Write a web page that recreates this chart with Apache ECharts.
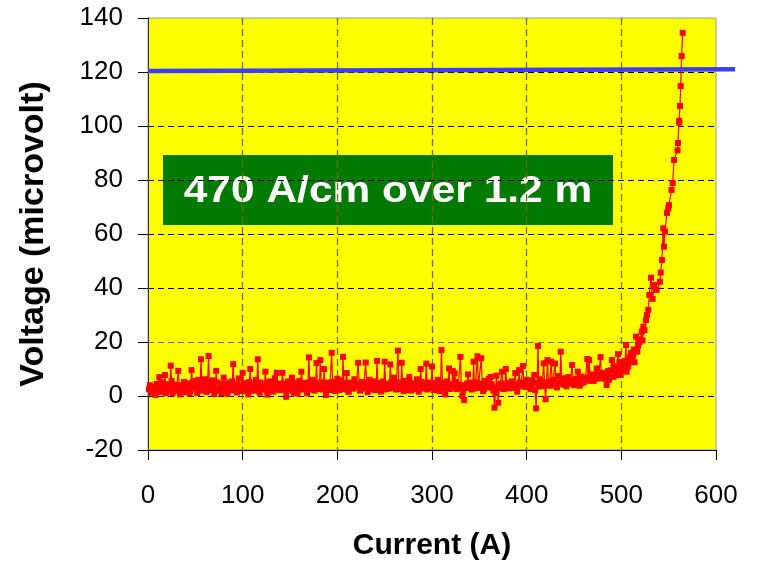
<!DOCTYPE html>
<html>
<head>
<meta charset="utf-8">
<script src="https://cdn.jsdelivr.net/npm/echarts@6/dist/echarts.min.js"></script>
<style>html,body{margin:0;padding:0;background:#fff}#c{width:761px;height:563px}</style>
</head>
<body>
<div id="c"></div>
<script>
// Baseline part of the measurement: current (A)
const baseCurrentA = [
  1,2,3,4,5,6,7,8,9,10,11,12,13,14,15,16,17,18,19,20,
  21,22,23,24,25,26,27,28,29,30,31,32,33,34,35,36,37,38,39,40,
  41,42,43,44,45,46,47,48,49,50,51,52,53,54,55,56,57,58,59,60,
  61,62,63,64,65,66,67,68,69,70,71,72,73,74,75,76,77,78,79,80,
  81,82,83,84,85,86,87,88,89,90,91,92,93,94,95,96,97,98,99,100,
  101,102,103,104,105,106,107,108,109,110,111,112,113,114,115,116,117,118,119,120,
  121,122,123,124,125,126,127,128,129,130,131,132,133,134,135,136,137,138,139,140,
  141,142,143,144,145,146,147,148,149,150,151,152,153,154,155,156,157,158,159,160,
  161,162,163,164,165,166,167,168,169,170,171,172,173,174,175,176,177,178,179,180,
  181,182,183,184,185,186,187,188,189,190,191,192,193,194,195,196,197,198,199,200,
  201,202,203,204,205,206,207,208,209,210,211,212,213,214,215,216,217,218,219,220,
  221,222,223,224,225,226,227,228,229,230,231,232,233,234,235,236,237,238,239,240,
  241,242,243,244,245,246,247,248,249,250,251,252,253,254,255,256,257,258,259,260,
  261,262,263,264,265,266,267,268,269,270,271,272,273,274,275,276,277,278,279,280,
  281,282,283,284,285,286,287,288,289,290,291,292,293,294,295,296,297,298,299,300,
  301,302,303,304,305,306,307,308,309,310,311,312,313,314,315,316,317,318,319,320,
  321,322,323,324,325,326,327,328,329,330,331,332,333,334,335,336,337,338,339,340,
  341,342,343,344,345,346,347,348,349,350,351,352,353,354,355,356,357,358,359,360,
  361,362,363,364,365,366,367,368,369,370,371,372,373,374,375,376,377,378,379,380,
  381,382,383,384,385,386,387,388,389,390,391,392,393,394,395,396,397,398,399,400,
  401,402,403,404,405,406,407,408,409,410,411,412,413,414,415,416,417,418,419,420,
  421,422,423,424,425,426,427,428,429,430,431,432,433,434,435,436,437,438,439,440,
  441,442,443,444,445,446,447,448,449,450,451,452,453,454,455,456,457,458,459,460,
  461,462,463,464,465,466,467,468,469,470,471,472,473,474,475,476,477,478,479,480
];
// Baseline part: voltage (microvolt)
const baseVoltageUV = [
  2.5,4.0,3.0,1.2,1.8,3.5,2.2,0.4,4.5,2.6,3.1,7.0,2.0,1.5,5.0,3.8,3.3,7.8,1.0,2.2,
  4.4,3.0,2.0,11.2,5.6,1.0,2.4,4.2,3.6,2.5,1.9,9.3,4.0,0.6,2.6,3.6,3.0,5.2,4.8,1.4,
  3.2,2.8,4.6,0.9,2.0,9.6,5.0,3.2,2.8,5.5,3.6,1.1,6.0,4.0,3.0,13.6,4.2,2.0,2.4,6.2,
  3.8,1.5,5.2,14.8,2.2,3.0,3.4,5.8,4.0,0.7,2.6,9.3,5.0,2.4,1.8,4.6,3.6,1.0,2.9,6.8,
  2.0,3.2,4.4,0.8,2.8,5.0,3.8,2.1,5.4,11.8,2.2,4.4,3.6,1.3,4.0,6.5,1.8,2.6,3.4,8.6,
  4.2,1.8,2.6,4.8,3.4,0.6,5.2,10.0,2.0,3.5,4.6,2.0,3.0,6.0,4.4,13.6,2.8,1.2,5.0,4.0,
  3.6,2.5,4.0,9.0,2.2,0.5,3.0,5.2,5.4,3.0,2.8,1.6,3.6,6.6,4.8,8.6,3.2,2.2,2.4,4.5,
  3.0,8.6,4.6,3.0,2.0,-0.3,2.6,5.4,4.2,2.0,3.4,6.8,2.2,1.2,5.0,3.8,3.6,0.9,2.8,5.6,
  3.4,9.0,4.6,2.4,2.6,4.8,3.8,1.0,5.0,14.3,2.4,3.2,4.2,6.0,3.0,2.0,4.8,12.2,2.6,4.2,
  3.2,13.3,5.0,3.6,2.4,10.0,3.0,0.4,4.4,5.0,3.8,2.6,2.2,16.0,5.2,4.0,3.4,1.8,4.0,6.4,
  4.2,2.2,3.0,5.8,2.6,14.5,4.8,3.0,3.6,8.5,2.2,1.5,5.0,4.6,3.4,2.8,2.8,6.2,4.6,3.4,
  3.6,12.3,4.4,2.0,2.6,5.2,5.0,3.6,3.0,12.4,3.8,1.4,4.6,6.0,2.4,3.0,3.2,4.8,5.4,2.2,
  4.0,13.0,2.8,3.8,4.8,1.6,3.2,5.4,2.4,12.7,4.6,2.6,3.6,4.2,2.8,11.7,5.2,3.0,3.4,6.8,
  4.6,2.4,3.0,16.8,5.0,4.0,2.6,12.3,3.8,1.8,4.2,5.6,2.2,3.2,3.6,7.0,4.8,2.0,3.0,4.6,
  2.6,3.4,4.0,6.2,3.6,1.6,2.8,10.0,5.2,4.4,3.4,2.8,4.6,12.0,2.4,5.0,3.8,3.0,4.4,10.9,
  4.0,2.2,3.0,4.8,2.6,6.0,4.4,1.8,3.2,17.0,5.0,3.2,2.8,0.6,3.6,5.4,4.2,10.2,2.6,3.6,
  4.4,9.3,3.0,8.4,5.2,2.6,2.8,4.2,3.6,14.5,4.0,0.1,2.2,-1.5,3.2,3.8,4.6,8.0,3.0,5.0,
  4.2,2.4,3.6,12.7,2.8,4.6,5.0,14.7,3.4,3.0,4.0,14.0,4.6,1.8,2.6,5.6,3.8,3.2,4.4,6.4,
  3.6,7.1,4.4,3.0,2.0,-4.3,1.0,7.5,3.2,-2.5,2.8,4.2,4.6,9.0,3.6,2.6,4.0,10.0,3.2,4.8,
  4.4,2.8,3.2,5.4,4.8,3.6,3.0,8.5,4.2,1.6,3.6,9.6,5.0,4.0,3.8,11.1,4.6,3.4,3.4,6.0,
  3.8,4.4,4.6,2.6,3.4,5.8,5.0,7.8,2.2,-4.6,4.8,18.5,3.6,6.2,5.4,3.6,4.2,12.1,4.0,-1.2,
  4.6,13.3,5.2,4.0,3.8,12.7,4.4,6.0,5.6,12.0,4.0,3.2,5.0,7.4,4.6,16.4,5.8,4.8,4.2,6.6,
  5.0,3.6,4.4,7.0,6.0,5.2,4.8,11.5,5.6,4.0,4.2,6.4,5.2,9.0,6.2,3.8,4.6,7.2,5.8,5.0,
  5.4,6.0,6.6,13.7,5.8,13.3,7.0,5.6,6.2,8.0,5.6,6.8,7.4,10.2,6.4,7.4,7.8,14.4,6.8,8.6
];
// Transition / quench part: current (A)
const riseCurrentA = [
  482,483,484.5,486,487,488,489,490,491.5,492,
  493,494,495,496.5,497.5,498,499.3,500,501,502,
  503,504,504.9,505.6,506,507.3,508,509,510,510.9,
  511.8,512.6,513.3,514,515.5,516.9,517.8,519,520,521.5,
  522.4,523.2,524.5,526,527,528.5,529.5,531.3,533,534.5,
  537.3,540.8,541.6,542.9,544.3,545,546.1,548.2,549.6,550.3,
  553,554.2,555.7,559.3,559.8,561,561.3,562,562.7,563.7,
  564.8
];
// Transition / quench part: voltage (microvolt)
const riseVoltageUV = [
  6.4,8.0,4.1,9.2,6.0,7.0,9.5,13.3,7.1,11.0,
  10.4,7.6,8.6,15.5,9.8,12.6,7.8,9.4,12.0,11.2,
  10.6,13.0,18.9,9.0,11.8,10.9,12.4,14.2,16.0,13.3,
  14.0,15.8,17.2,12.5,22.0,16.4,18.6,19.9,21.0,23.8,
  20.6,25.7,24.4,28.1,30.0,31.9,37.4,43.8,36.0,41.1,
  39.3,42.3,45.7,50.4,62.1,55.3,60.9,67.8,69.5,70.7,
  76.3,78.9,87.4,91.0,93.7,101.9,101.2,107.4,114.8,125.9,
  134.5
];
// Criterion line (extends past the plot edge)
const thresholdCurrent = [0, 620];
const thresholdVoltage = [120.4, 121.0];
// Axis ticks
const xTicks = {min: 0, max: 600, step: 100};
const yTicks = {min: -20, max: 140, step: 20};
const labelText = '470 A/cm over 1.2 m';

const FONT = '"Liberation Sans", Arial, sans-serif';
const chart = echarts.init(document.getElementById('c'), null, {renderer: 'canvas'});
const allCurrent = baseCurrentA.concat(riseCurrentA);
const allVoltage = baseVoltageUV.concat(riseVoltageUV);
const pts = allCurrent.map((x, i) => [x, allVoltage[i]]);
const thr = thresholdCurrent.map((x, i) => [x, thresholdVoltage[i]]);

chart.setOption({
  animation: false,
  backgroundColor: '#ffffff',
  grid: [
    {left: 148, right: 45, top: 18, bottom: 113, outerBoundsMode: 'none', containLabel: false,
     show: true, backgroundColor: '#ffff00', borderColor: '#9a9a9a', borderWidth: 1},
    {left: 148, right: 26, top: 18, bottom: 113, outerBoundsMode: 'none', containLabel: false, show: false}
  ],
  xAxis: [{
    type: 'value', gridIndex: 0, min: xTicks.min, max: xTicks.max, interval: xTicks.step,
    name: 'Current (A)', nameLocation: 'middle', nameGap: 81,
    nameTextStyle: {fontFamily: FONT, fontSize: 30, fontWeight: 'bold', color: '#000'},
    axisLine: {onZero: false, lineStyle: {color: '#000', width: 1}},
    axisTick: {show: true, inside: false, length: 10, lineStyle: {color: '#000'}},
    axisLabel: {fontFamily: FONT, fontSize: 26, color: '#000', margin: 33},
    splitLine: {show: true, showMinLine: false, showMaxLine: false,
      lineStyle: {color: '#6e6e00', type: [7, 4], width: 1.3}}
  }, {
    type: 'value', gridIndex: 1, min: 0, max: 620, show: false
  }],
  yAxis: [{
    type: 'value', gridIndex: 0, min: yTicks.min, max: yTicks.max, interval: yTicks.step,
    name: 'Voltage (microvolt)', nameLocation: 'middle', nameGap: 97,
    nameTextStyle: {fontFamily: FONT, fontSize: 34, fontWeight: 'bold', color: '#000'},
    axisLine: {show: true, onZero: false, lineStyle: {color: '#333', width: 1}},
    axisTick: {show: true, inside: false, length: 10, lineStyle: {color: '#000'}},
    axisLabel: {fontFamily: FONT, fontSize: 26, color: '#000', margin: 25},
    splitLine: {show: true, showMinLine: false, showMaxLine: false,
      lineStyle: {color: ['#000', '#6e6e00', '#000', '#000', '#000', '#000', '#000', '#000', '#000'],
        type: [6, 4], width: 1}}
  }, {
    type: 'value', gridIndex: 1, min: yTicks.min, max: yTicks.max, show: false
  }],
  graphic: [{
    type: 'group', left: 163, top: 155, z: 10,
    children: [
      {type: 'rect', shape: {x: 0, y: 0, width: 450, height: 70}, style: {fill: '#007a00'}},
      {type: 'group', x: 225, y: 37, scaleX: 1.18,
        children: [{type: 'text', x: 0, y: 0, style: {text: labelText, fill: '#ffffff',
          font: 'bold 36px "Liberation Sans", Arial, sans-serif', align: 'center', verticalAlign: 'middle'}}]}
    ]
  }],
  series: [
    {
      type: 'line', data: pts, xAxisIndex: 0, yAxisIndex: 0, z: 3,
      symbol: 'rect', symbolSize: 6, showAllSymbol: true,
      lineStyle: {color: '#ff0000', width: 1.2},
      itemStyle: {color: '#ff0000'}
    },
    {
      type: 'line', data: thr, xAxisIndex: 1, yAxisIndex: 1, z: 4,
      symbol: 'none',
      lineStyle: {color: '#3c3cff', width: 4.5}
    }
  ]
});
</script>
</body>
</html>
